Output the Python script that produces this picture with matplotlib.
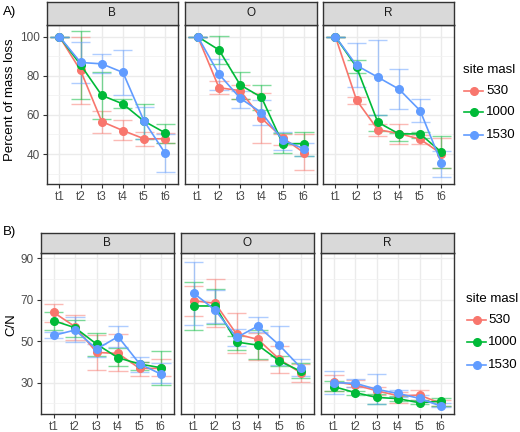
import matplotlib
matplotlib.use('Agg')
import matplotlib.pyplot as plt
from matplotlib.lines import Line2D

plt.rcParams['font.family'] = ['Liberation Sans', 'DejaVu Sans']

times = ['t1', 't2', 't3', 't4', 't5', 't6']
sites = ['530', '1000', '1530']
colors = ['#F8766D', '#00BA38', '#619CFF']
panels = ['B', 'O', 'R']

# A) percent of mass loss, rows = sites (530, 1000, 1530)
mass_mean_B = [[100, 82.7, 56.6, 52.0, 47.8, 47.8],
               [100, 85.6, 70.0, 65.6, 56.8, 50.8],
               [100, 86.8, 86.1, 81.7, 56.8, 40.3]]
mass_lo_B = [[100, 65.6, 50.8, 47.0, 43.9, 45.8],
             [100, 68.0, 57.8, 63.3, 47.6, 45.8],
             [100, 76.4, 81.4, 70.2, 47.5, 30.8]]
mass_hi_B = [[100, 100.0, 62.2, 57.3, 51.5, 50.8],
             [100, 102.9, 81.9, 68.0, 65.6, 55.6],
             [100, 97.5, 91.0, 93.0, 63.9, 50.0]]

mass_mean_O = [[100, 73.9, 72.4, 58.3, 48.3, 40.7],
               [100, 93.2, 75.3, 69.0, 45.3, 45.3],
               [100, 80.8, 68.5, 61.2, 47.1, 42.7]]
mass_lo_O = [[100, 70.5, 68.1, 45.4, 44.7, 31.7],
             [100, 85.9, 68.3, 62.7, 40.5, 39.0],
             [100, 72.9, 63.6, 55.1, 42.0, 39.0]]
mass_hi_O = [[100, 77.1, 75.4, 71.2, 50.5, 50.0],
             [100, 100.5, 82.0, 75.3, 51.0, 51.5],
             [100, 88.5, 72.0, 67.8, 51.5, 45.4]]

mass_mean_R = [[100, 67.5, 52.5, 50.5, 47.6, 40.2],
               [100, 84.4, 56.3, 50.3, 50.3, 41.0],
               [100, 85.3, 79.3, 73.2, 62.2, 35.6]]
mass_lo_R = [[100, 65.8, 49.2, 45.3, 44.9, 32.9],
             [100, 81.4, 52.0, 46.6, 48.3, 33.0],
             [100, 74.1, 60.2, 63.1, 56.3, 28.3]]
mass_hi_R = [[100, 69.3, 55.6, 55.6, 49.5, 48.3],
             [100, 88.1, 60.2, 50.8, 51.4, 49.0],
             [100, 96.9, 98.3, 83.4, 68.3, 41.5]]

# B) C/N ratio
cn_mean_B = [[63.9, 57.0, 44.6, 44.1, 36.9, 36.9],
             [59.9, 56.5, 48.6, 42.0, 39.0, 37.2],
             [52.8, 55.4, 46.2, 52.2, 39.1, 34.1]]
cn_lo_B = [[59.4, 50.5, 36.1, 35.4, 33.3, 33.2],
           [55.5, 51.8, 42.8, 38.1, 36.1, 28.8],
           [51.7, 49.4, 42.5, 47.3, 35.3, 29.9]]
cn_hi_B = [[67.8, 62.6, 53.0, 53.4, 39.8, 41.4],
           [63.9, 60.2, 53.9, 46.5, 39.8, 45.1],
           [54.3, 61.8, 48.5, 57.5, 42.5, 39.3]]

cn_mean_O = [[69.5, 68.3, 53.4, 50.9, 41.3, 34.7],
             [67.0, 67.0, 49.6, 48.1, 40.5, 35.5],
             [73.1, 65.0, 51.8, 57.3, 48.1, 37.3]]
cn_lo_O = [[62.1, 56.7, 44.1, 40.9, 34.9, 30.2],
           [55.4, 58.3, 46.0, 41.4, 38.1, 32.3],
           [57.8, 58.9, 47.6, 54.6, 38.5, 33.3]]
cn_hi_O = [[76.6, 79.9, 63.4, 54.1, 47.8, 39.2],
           [78.7, 75.0, 52.5, 55.4, 43.0, 39.5],
           [88.4, 74.7, 55.7, 61.8, 57.2, 41.5]]

cn_mean_R = [[30.5, 28.9, 26.1, 23.7, 24.0, 20.0],
             [28.1, 25.2, 22.9, 22.3, 20.3, 21.1],
             [30.0, 29.7, 26.8, 24.8, 22.4, 18.7]]
cn_lo_R = [[26.0, 28.1, 24.0, 20.0, 21.6, 18.7],
           [26.0, 24.0, 19.7, 21.0, 19.5, 18.7],
           [24.5, 28.1, 19.5, 23.2, 21.3, 18.1]]
cn_hi_R = [[33.7, 31.3, 28.1, 25.5, 26.5, 21.6],
           [30.8, 26.0, 24.5, 23.5, 21.5, 22.4],
           [35.6, 31.8, 34.0, 26.5, 24.0, 20.0]]

mass_data = [(mass_mean_B, mass_lo_B, mass_hi_B),
             (mass_mean_O, mass_lo_O, mass_hi_O),
             (mass_mean_R, mass_lo_R, mass_hi_R)]
cn_data = [(cn_mean_B, cn_lo_B, cn_hi_B),
           (cn_mean_O, cn_lo_O, cn_hi_O),
           (cn_mean_R, cn_lo_R, cn_hi_R)]

W, H = 520, 432
fig = plt.figure(figsize=(W / 100, H / 100), dpi=100)


def box(x0, y0, x1, y1):
    # pixel box (top-left origin) -> figure fraction rect
    return [x0 / W, 1 - y1 / H, (x1 - x0) / W, (y1 - y0) / H]


def draw_panel(rect, strip_rect, label, data, ylim, major, minor, show_y):
    ax = fig.add_axes(rect)
    xs = list(range(len(times)))
    mean, lo, hi = data
    for i in range(len(sites)):
        c = colors[i]
        ax.vlines(xs, lo[i], hi[i], color=c, alpha=0.5, lw=1.0, zorder=2)
        ax.hlines(lo[i], [x - 0.45 for x in xs], [x + 0.45 for x in xs],
                  color=c, alpha=0.5, lw=1.0, zorder=2)
        ax.hlines(hi[i], [x - 0.45 for x in xs], [x + 0.45 for x in xs],
                  color=c, alpha=0.5, lw=1.0, zorder=2)
    for i in range(len(sites)):
        ax.plot(xs, mean[i], color=colors[i], lw=1.2, marker='o', ms=5.5,
                zorder=3)
    ax.set_xlim(-0.6, len(times) - 0.4)
    ax.set_ylim(*ylim)
    ax.set_xticks(xs)
    ax.set_xticklabels(times)
    ax.set_yticks(major)
    ax.set_yticks(minor, minor=True)
    ax.grid(True, which='major', color='#ebebeb', lw=1.0, zorder=0)
    ax.grid(True, which='minor', axis='y', color='#f2f2f2', lw=0.6, zorder=0)
    ax.set_axisbelow(True)
    ax.tick_params(which='major', length=3, width=0.8, color='#333333',
                   labelcolor='#4d4d4d', labelsize=8.5, pad=2)
    ax.tick_params(which='minor', length=0)
    if not show_y:
        ax.tick_params(axis='y', which='major', length=0, labelleft=False)
    for s in ax.spines.values():
        s.set_color('#333333')
        s.set_linewidth(1.0)

    st = fig.add_axes(strip_rect)
    st.set_facecolor('#d9d9d9')
    st.set_xticks([])
    st.set_yticks([])
    for s in st.spines.values():
        s.set_color('#333333')
        s.set_linewidth(1.0)
    st.text(0.5, 0.5, label, ha='center', va='center', fontsize=8.5,
            color='#1a1a1a', transform=st.transAxes)
    return ax


# top row (A)
top_x = [(46.7, 178), (185, 316.7), (322.7, 454)]
for k in range(3):
    x0, x1 = top_x[k]
    draw_panel(box(x0, 24.7, x1, 184), box(x0, 2, x1, 24.7), panels[k],
               mass_data[k], (24.7, 106.1), [40, 60, 80, 100],
               [30, 50, 70, 90], k == 0)

# bottom row (B)
bot_x = [(40.7, 174), (181, 313.5), (321, 454)]
for k in range(3):
    x0, x1 = bot_x[k]
    draw_panel(box(x0, 253.3, x1, 414), box(x0, 232.7, x1, 253.3), panels[k],
               cn_data[k], (14.9, 92.4), [30, 50, 70, 90],
               [20, 40, 60, 80], k == 0)

fig.text(3 / W, 1 - 12 / H, 'A)', fontsize=9.5, va='center', ha='left')
fig.text(3 / W, 1 - 232 / H, 'B)', fontsize=9.5, va='center', ha='left')
fig.text(10 / W, 1 - 100 / H, 'Percent of mass loss', rotation=90,
         fontsize=9.5, va='center', ha='center')
fig.text(11 / W, 1 - 325 / H, 'C/N', rotation=90,
         fontsize=9.5, va='center', ha='center')


def legend(x_key, x_text, y_title, ys):
    fig.text(x_key / W, 1 - y_title / H, 'site masl', fontsize=9.5,
             va='center', ha='left')
    for i, y in enumerate(ys):
        fy = 1 - y / H
        fig.add_artist(Line2D([(x_key + 1) / W, (x_key + 20) / W], [fy, fy],
                              color=colors[i], lw=1.2, marker=None))
        fig.add_artist(Line2D([(x_key + 10.5) / W], [fy], color=colors[i],
                              marker='o', ms=5.5, lw=0))
        fig.text(x_text / W, fy, sites[i], fontsize=9.5, va='center',
                 ha='left')


legend(463, 486, 70, [91, 112, 135])
legend(466, 488, 299, [320, 342, 365])

fig.savefig('out.png', dpi=100)
